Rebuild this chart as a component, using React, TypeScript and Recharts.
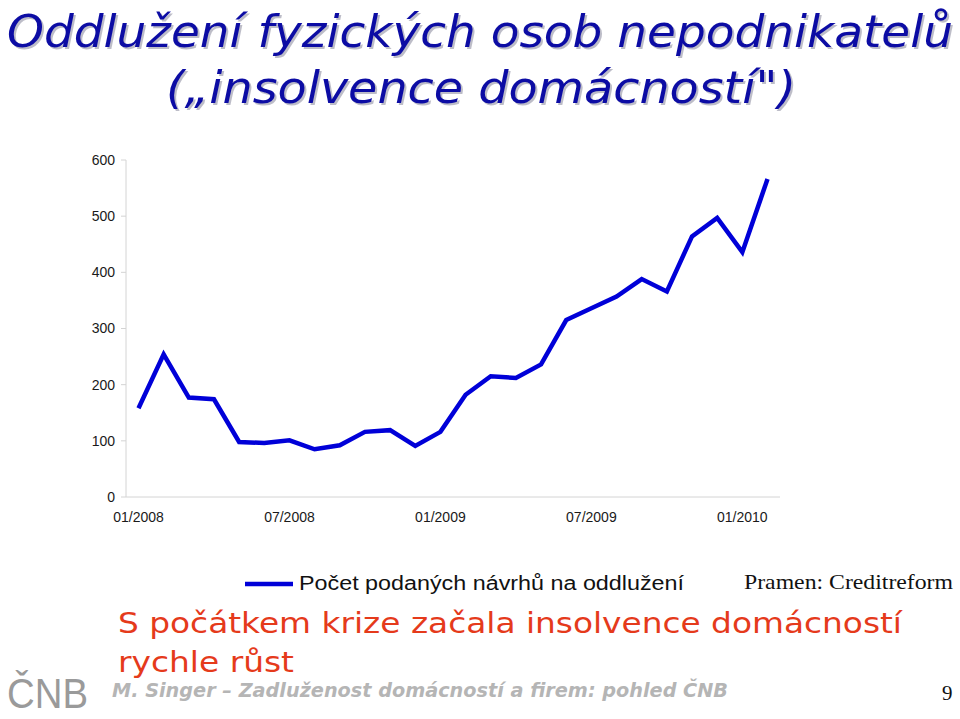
import { LineChart, Line, XAxis, YAxis } from 'recharts';

// měsíce 01/2008 – 02/2010
const months = [
  '01/2008', '02/2008', '03/2008', '04/2008', '05/2008', '06/2008',
  '07/2008', '08/2008', '09/2008', '10/2008', '11/2008', '12/2008',
  '01/2009', '02/2009', '03/2009', '04/2009', '05/2009', '06/2009',
  '07/2009', '08/2009', '09/2009', '10/2009', '11/2009', '12/2009',
  '01/2010', '02/2010',
];

// počet podaných návrhů na oddlužení
const navrhy = [
  158, 254, 177, 174, 98, 96, 101, 85, 92, 116, 119, 91,
  116, 182, 215, 212, 236, 315, 336, 357, 388, 366, 464, 497,
  436, 566,
];

const yTicks = [0, 100, 200, 300, 400, 500, 600];

const seriesName = 'Počet podaných návrhů na oddlužení';

const data = months.map((m, i) => ({ month: m, value: navrhy[i] }));

const BLUE = '#0000d8';
const TITLE = '#0c0ca4';
const RED = '#e53a1b';

export default function App() {
  return (
    <div
      style={{
        position: 'absolute',
        left: 0,
        top: 0,
        width: 960,
        height: 719,
        background: '#fff',
        overflow: 'hidden',
      }}
    >
      <div style={{ position: 'absolute', left: 0, top: 0 }}>
        <LineChart
          width={960}
          height={540}
          data={data}
          margin={{ top: 160, right: 180, bottom: 0, left: 0 }}
        >
          <XAxis
            dataKey='month'
            interval={5}
            height={43}
            padding={{ left: 12.5, right: 12.5 }}
            tickLine={false}
            tickSize={0}
            tickMargin={15}
            stroke='#d4d4d4'
            tick={{ fill: '#1a1a1a', fontSize: 14, fontFamily: 'Liberation Sans, Arial' }}
          />
          <YAxis
            width={126}
            domain={[0, 600]}
            ticks={yTicks}
            tickSize={5}
            tickMargin={6}
            stroke='#d4d4d4'
            tick={{ fill: '#1a1a1a', fontSize: 14, fontFamily: 'Liberation Sans, Arial' }}
          />
          <Line
            type='linear'
            dataKey='value'
            name={seriesName}
            stroke={BLUE}
            strokeWidth={4.5}
            dot={false}
            isAnimationActive={false}
          />
        </LineChart>
      </div>

      <svg
        width={960}
        height={719}
        style={{ position: 'absolute', left: 0, top: 0, pointerEvents: 'none' }}
      >
        {/* nadpis se stínem */}
        <g
          fontFamily='DejaVu Sans, Verdana'
          fontStyle='italic'
          fontSize={44}
          fill={TITLE}
          style={{ filter: 'drop-shadow(2px 2px 0px #bdbdc8)' }}
        >
          <text x={7} y={47} textLength={946} lengthAdjust='spacingAndGlyphs'>
            Oddlužení fyzických osob nepodnikatelů
          </text>
          <text x={166} y={103} textLength={630} lengthAdjust='spacingAndGlyphs'>
            („insolvence domácností")
          </text>
        </g>

        {/* legenda */}
        <line x1={245} x2={293} y1={584} y2={584} stroke={BLUE} strokeWidth={4.5} />
        <text
          x={299}
          y={590}
          fontFamily='Liberation Sans, Arial'
          fontSize={20}
          textLength={385}
          lengthAdjust='spacingAndGlyphs'
          fill='#111'
        >
          {seriesName}
        </text>
        <text
          x={744}
          y={589}
          fontFamily='Liberation Serif, Times New Roman'
          fontSize={21}
          textLength={209}
          lengthAdjust='spacingAndGlyphs'
          fill='#111'
        >
          Pramen: Creditreform
        </text>

        {/* komentář */}
        <g fontFamily='DejaVu Sans, Verdana' fontSize={29} fill={RED}>
          <text x={118} y={633} textLength={784} lengthAdjust='spacingAndGlyphs'>
            S počátkem krize začala insolvence domácností
          </text>
          <text x={118} y={672} textLength={176} lengthAdjust='spacingAndGlyphs'>
            rychle růst
          </text>
        </g>

        {/* zápatí */}
        <text
          x={7}
          y={708}
          fontFamily='Liberation Sans, Arial'
          fontSize={43}
          textLength={81}
          lengthAdjust='spacingAndGlyphs'
          fill='#9a9a9a'
        >
          ČNB
        </text>
        <text
          x={112}
          y={697}
          fontFamily='DejaVu Sans, Verdana'
          fontStyle='italic'
          fontWeight='bold'
          fontSize={19}
          textLength={616}
          lengthAdjust='spacingAndGlyphs'
          fill='#b5b5b5'
        >
          M. Singer – Zadluženost domácností a firem: pohled ČNB
        </text>
        <text x={942} y={700} fontFamily='Liberation Serif, Times New Roman' fontSize={21} fill='#111'>
          9
        </text>
      </svg>
    </div>
  );
}
